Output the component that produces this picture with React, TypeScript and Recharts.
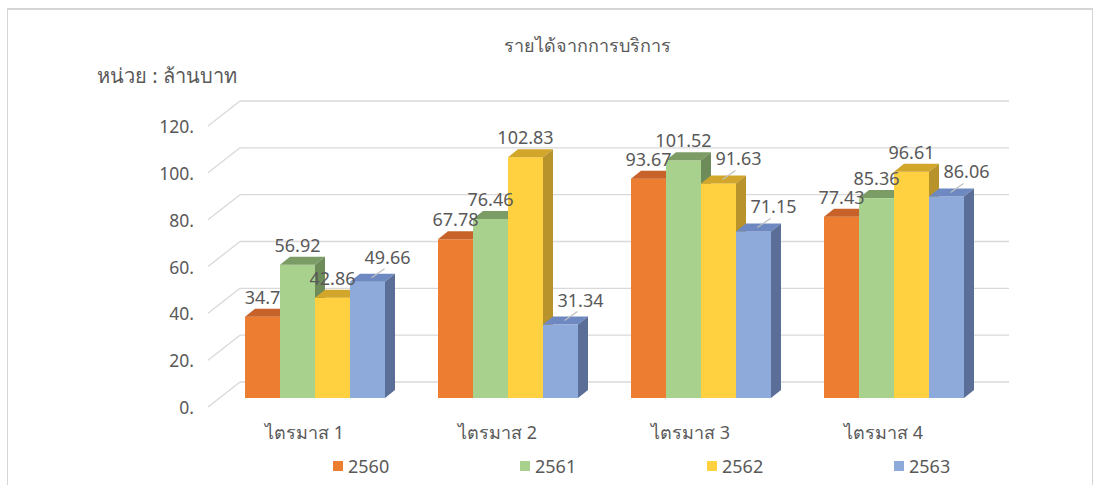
import { BarChart, Bar, XAxis, YAxis, CartesianGrid, LabelList } from 'recharts';

const quarters = ['ไตรมาส 1', 'ไตรมาส 2', 'ไตรมาส 3', 'ไตรมาส 4'];
const rev2560 = [34.7, 67.78, 93.67, 77.43];
const rev2561 = [56.92, 76.46, 101.52, 85.36];
const rev2562 = [42.86, 102.83, 91.63, 96.61];
const rev2563 = [49.66, 31.34, 71.15, 86.06];
const yTicks = [0, 20, 40, 60, 80, 100, 120];

// labels that were dragged aside in the original, with a leader line to the bar
const leaderLabels: Record<string, string[]> = {
  '2562': ['ไตรมาส 3'],
  '2563': ['ไตรมาส 1', 'ไตรมาส 2', 'ไตรมาส 3', 'ไตรมาส 4'],
};

const FONT = "'Noto Sans', 'Open Sans', sans-serif";
const TEXT = '#595959';
const GRID = '#d9d9d9';
// depth of one bar
const DX = 10;
const DY = 8;

const series = [
  { key: '2560', values: rev2560, front: '#ED7D31', top: '#C7622A', side: '#B05424' },
  { key: '2561', values: rev2561, front: '#A9D18E', top: '#7C9C66', side: '#6E8C5A' },
  { key: '2562', values: rev2562, front: '#FFD03F', top: '#D2A62B', side: '#B8922A' },
  { key: '2563', values: rev2563, front: '#8EAADB', top: '#6E89C2', side: '#5A6E98' },
];

const data = quarters.map((q, i) => {
  const row: Record<string, string | number> = { quarter: q };
  series.forEach(s => { row[s.key] = s.values[i]; });
  return row;
});

function box(front: string, top: string, side: string) {
  return (p: any) => {
    const { x, y, width: w, height: h } = p;
    if (w == null || h == null) return <g />;
    return (
      <g>
        <rect x={x} y={y} width={w} height={h} fill={front} />
        <polygon points={`${x},${y} ${x + DX},${y - DY} ${x + w + DX},${y - DY} ${x + w},${y}`} fill={top} />
        <polygon points={`${x + w},${y} ${x + w + DX},${y - DY} ${x + w + DX},${y + h - DY} ${x + w},${y + h}`} fill={side} />
      </g>
    );
  };
}

const gridLine = (p: any) => {
  const { x1, x2, y1 } = p;
  return (
    <g key={`gl-${y1}`}>
      <line x1={x1 - 11} y1={y1 + 9} x2={x1 + 21} y2={y1 - 16} stroke={GRID} strokeWidth={1.3} />
      <line x1={x1 + 21} y1={y1 - 16} x2={x2 + 18} y2={y1 - 16} stroke={GRID} strokeWidth={1.3} />
    </g>
  );
};

const YTick = ({ x, y, payload }: any) => (
  <text x={x - 25} y={y + 9} textAnchor="end" dominantBaseline="central" fill={TEXT} fontSize={17.5} fontFamily={FONT}>
    {`${payload.value}.`}
  </text>
);

const XTick = ({ x, y, payload }: any) => (
  <text x={x - 11} y={y + 34} textAnchor="middle" dominantBaseline="central" fill={TEXT} fontSize={18} fontFamily={FONT}>
    {payload.value}
  </text>
);

function valueLabel(key: string) {
  return (p: any) => {
    const { x, y, width, value, index } = p;
    const cx = x + width / 2;
    const moved = (leaderLabels[key] || []).includes(quarters[index]);
    if (!moved) {
      return (
        <text x={cx} y={y - 20} textAnchor="middle" dominantBaseline="central" fill={TEXT} fontSize={18} fontFamily={FONT}>
          {value}
        </text>
      );
    }
    return (
      <g>
        <line x1={cx + 4} y1={y - 4} x2={cx + 17} y2={y - 13} stroke="#bfbfbf" strokeWidth={1.2} />
        <text x={cx + 20} y={y - 25} textAnchor="middle" dominantBaseline="central" fill={TEXT} fontSize={18} fontFamily={FONT}>
          {value}
        </text>
      </g>
    );
  };
}

export default function App() {
  return (
    <div style={{ position: 'absolute', left: 0, top: 0, width: 1099, height: 485, background: '#fff', overflow: 'hidden', fontFamily: FONT }}>
      <div style={{ position: 'absolute', left: 7, top: 8, width: 1084, height: 500, border: '1px solid #d6d6d6', borderTopWidth: 2 }} />
      <div style={{ position: 'absolute', left: 0, width: 1174, top: 31, textAlign: 'center', fontSize: 18, color: TEXT }}>
        รายได้จากการบริการ
      </div>
      <div style={{ position: 'absolute', left: 97, top: 60, fontSize: 20, color: TEXT }}>
        หน่วย : ล้านบาท
      </div>
      <div style={{ position: 'absolute', left: 0, top: 0 }}>
        <BarChart
          width={1099}
          height={485}
          data={data}
          margin={{ top: 117, right: 108, bottom: 37, left: 0 }}
          barCategoryGap={26}
          barGap={0}
        >
          <CartesianGrid vertical={false} horizontal={gridLine} />
          <XAxis dataKey="quarter" height={50} axisLine={false} tickLine={false} tickSize={0} tickMargin={0} tick={<XTick />} />
          <YAxis width={219} domain={[0, 120]} ticks={yTicks} axisLine={false} tickLine={false} tickSize={0} tickMargin={0} tick={<YTick />} />
          {series.map(s => (
            <Bar key={s.key} dataKey={s.key} name={s.key} shape={box(s.front, s.top, s.side)} isAnimationActive={false}>
              <LabelList dataKey={s.key} content={valueLabel(s.key)} />
            </Bar>
          ))}
        </BarChart>
      </div>
      <div style={{ position: 'absolute', left: 333, top: 454, display: 'flex' }}>
        {series.map(s => (
          <div key={s.key} style={{ width: 187, display: 'flex', alignItems: 'center', fontSize: 18, color: TEXT }}>
            <span style={{ display: 'inline-block', width: 10, height: 10, background: s.front, marginRight: 5 }} />
            {s.key}
          </div>
        ))}
      </div>
    </div>
  );
}
